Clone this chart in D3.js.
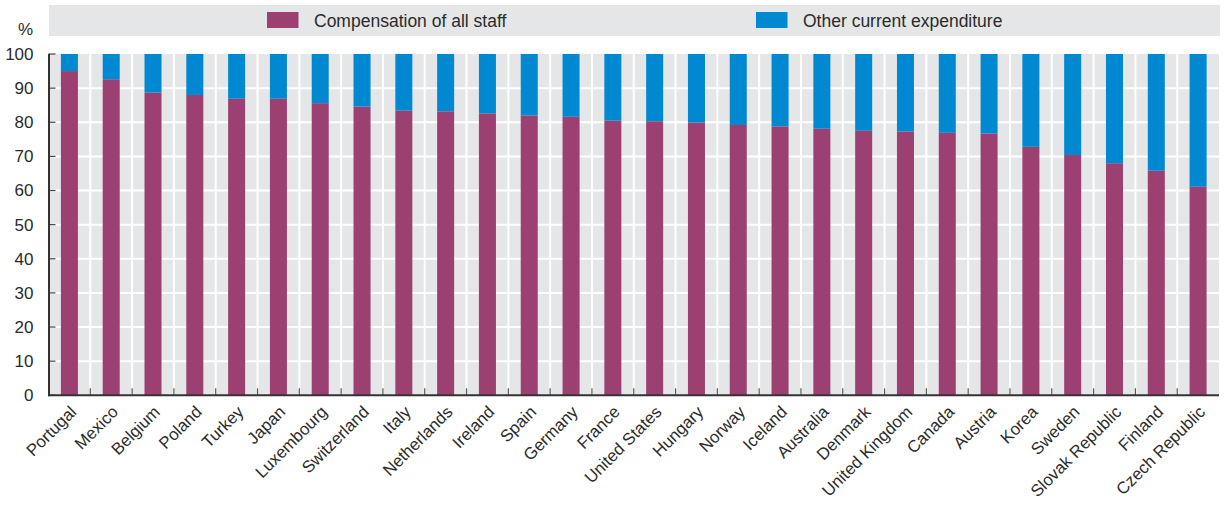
<!DOCTYPE html>
<html>
<head>
<meta charset="utf-8">
<script src="https://cdn.jsdelivr.net/npm/d3@7"></script>
<style>
  body { margin: 0; background: #fff; }
  svg { display: block; }
  text { font-family: "Liberation Sans Narrow", "Liberation Sans", Arial, sans-serif; fill: #2b2b2b; }
</style>
</head>
<body>
<svg id="chart" width="1224" height="505"></svg>
<script>
// Share of current expenditure by resource category (%)
const countries = ["Portugal", "Mexico", "Belgium", "Poland", "Turkey", "Japan", "Luxembourg",
  "Switzerland", "Italy", "Netherlands", "Ireland", "Spain", "Germany", "France", "United States",
  "Hungary", "Norway", "Iceland", "Australia", "Denmark", "United Kingdom", "Canada", "Austria",
  "Korea", "Sweden", "Slovak Republic", "Finland", "Czech Republic"];
const compensation = [95.0, 92.6, 88.7, 88.0, 86.9, 86.9, 85.6, 84.6, 83.4, 83.2, 82.6, 82.0, 81.6,
  80.5, 80.3, 79.9, 79.2, 78.8, 78.1, 77.5, 77.3, 76.9, 76.7, 72.8, 70.4, 68.0, 65.8, 61.1];
const otherCurrent = [5.0, 7.4, 11.3, 12.0, 13.1, 13.1, 14.4, 15.4, 16.6, 16.8, 17.4, 18.0, 18.4,
  19.5, 19.7, 20.1, 20.8, 21.2, 21.9, 22.5, 22.7, 23.1, 23.3, 27.2, 29.6, 32.0, 34.2, 38.9];
const seriesNames = ["Compensation of all staff", "Other current expenditure"];
const seriesColors = ["#9c4071", "#0089d0"];
const yTicks = [0, 10, 20, 30, 40, 50, 60, 70, 80, 90, 100];

const svg = d3.select("#chart");
const plotLeft = 48.5, plotRight = 1219, plotTop = 54, plotBottom = 395.3;
const fontStack = '"Liberation Sans Narrow", "Liberation Sans", Arial, sans-serif';

const x = d3.scaleBand().domain(countries).range([plotLeft, plotRight])
  .paddingInner(0.593).paddingOuter(0.2965);
const y = d3.scaleLinear().domain([0, 100]).range([plotBottom, plotTop]);
const step = x.step();

// Legend band
const legend = svg.append("g");
legend.append("rect").attr("x", 49).attr("y", 5).attr("width", 1171).attr("height", 31)
  .attr("fill", "#e5e6e8");
const legendX = [267, 756];
seriesNames.forEach((name, i) => {
  legend.append("rect").attr("x", legendX[i]).attr("y", 12).attr("width", 31.5).attr("height", 16)
    .attr("fill", seriesColors[i]);
  legend.append("text").attr("x", legendX[i] + 47).attr("y", 26.5)
    .attr("font-size", 17.5).text(name);
});

// Plot background
svg.append("rect").attr("x", plotLeft).attr("y", plotTop)
  .attr("width", plotRight - plotLeft).attr("height", plotBottom - plotTop)
  .attr("fill", "#e5e6e8");

// Horizontal grid lines
svg.append("g").selectAll("line").data(yTicks.filter(t => t > 0 && t < 100)).join("line")
  .attr("x1", plotLeft).attr("x2", plotRight).attr("y1", d => y(d)).attr("y2", d => y(d))
  .attr("stroke", "#fff").attr("stroke-width", 2);

// Vertical grid lines between categories
const boundaries = countries.slice(1).map(c => x(c) + x.bandwidth() / 2 - step / 2);
svg.append("g").selectAll("line").data(boundaries).join("line")
  .attr("x1", d => d).attr("x2", d => d).attr("y1", plotTop).attr("y2", plotBottom)
  .attr("stroke", "#fff").attr("stroke-width", 2);

// Stacked bars
const rows = countries.map((c, i) => ({ country: c, comp: compensation[i], other: otherCurrent[i] }));
const bars = svg.append("g");
bars.selectAll("rect.comp").data(rows).join("rect").attr("class", "comp")
  .attr("x", d => x(d.country)).attr("width", x.bandwidth())
  .attr("y", d => y(d.comp)).attr("height", d => y(0) - y(d.comp))
  .attr("fill", seriesColors[0]);
bars.selectAll("rect.other").data(rows).join("rect").attr("class", "other")
  .attr("x", d => x(d.country)).attr("width", x.bandwidth())
  .attr("y", d => y(d.comp + d.other)).attr("height", d => y(d.comp) - y(d.comp + d.other))
  .attr("fill", seriesColors[1]);

// Y axis
const yAxis = svg.append("g").attr("transform", `translate(${plotLeft},0)`)
  .call(d3.axisLeft(y).tickValues(yTicks).tickSize(0).tickPadding(15));
yAxis.select(".domain").remove();
yAxis.selectAll("text").attr("font-size", 17).attr("fill", "#2b2b2b").style("font-family", fontStack);
svg.append("g").selectAll("line").data(yTicks).join("line")
  .attr("x1", plotLeft).attr("x2", plotLeft + 7).attr("y1", d => y(d)).attr("y2", d => y(d))
  .attr("stroke", "#444").attr("stroke-width", 1.2);
svg.append("line").attr("x1", plotLeft + 0.5).attr("x2", plotLeft + 0.5)
  .attr("y1", plotTop).attr("y2", plotBottom + 1)
  .attr("stroke", "#333").attr("stroke-width", 2);
svg.append("text").attr("x", 33).attr("y", 35).attr("text-anchor", "end")
  .attr("font-size", 17).text("%");

// X axis line and category ticks
svg.append("g").selectAll("line").data(boundaries).join("line")
  .attr("x1", d => d).attr("x2", d => d).attr("y1", plotBottom - 7).attr("y2", plotBottom)
  .attr("stroke", "#555").attr("stroke-width", 1.2);
svg.append("line").attr("x1", plotLeft).attr("x2", plotRight).attr("y1", plotBottom).attr("y2", plotBottom)
  .attr("stroke", "#333").attr("stroke-width", 2);

// Category labels
svg.append("g").selectAll("text").data(countries).join("text")
  .attr("transform", d => `translate(${x(d) + x.bandwidth() / 2 + 8},413) rotate(-45)`)
  .attr("text-anchor", "end").attr("font-size", 16.8).text(d => d);
</script>
</body>
</html>
